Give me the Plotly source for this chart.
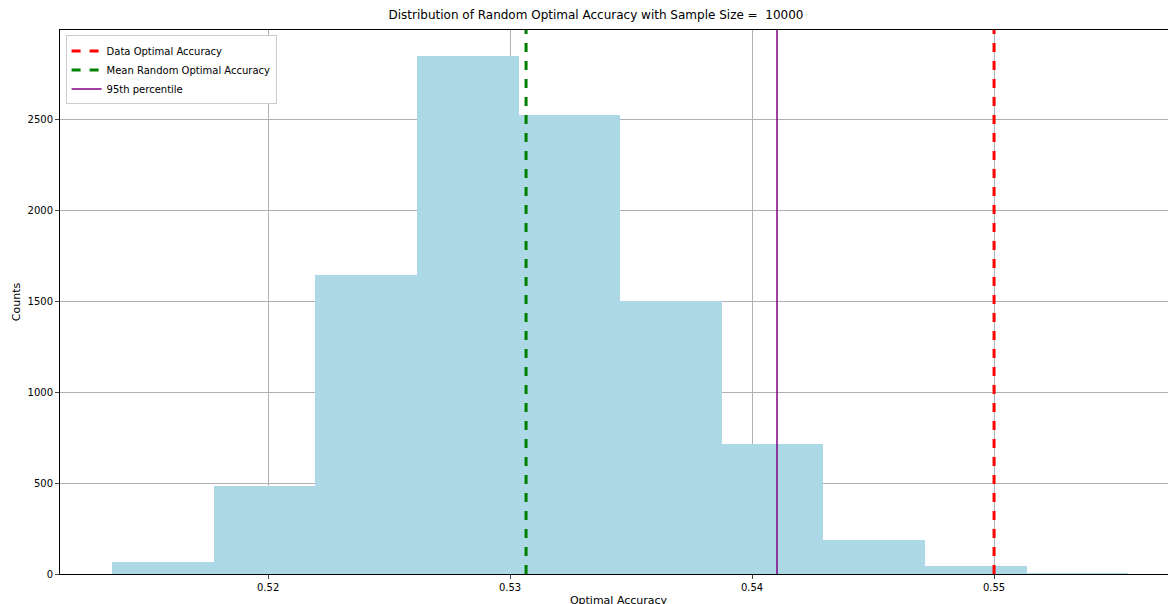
import numpy as np
import plotly.graph_objects as go

# histogram
bin_edges = [0.51355, 0.51775, 0.52195, 0.52615, 0.53035, 0.53455,
             0.53875, 0.54295, 0.54715, 0.55135, 0.55555]
counts = [66, 484, 1643, 2846, 2522, 1500, 714, 187, 44, 5]

data_opt_acc = 0.5500
mean_random_acc = 0.53066
pct95 = 0.54103
ymax = 2989

edges = np.array(bin_edges)
centers = (edges[:-1] + edges[1:]) / 2
widths = np.diff(edges)

fig = go.Figure()
fig.add_trace(go.Bar(x=centers, y=counts, width=widths, marker_color='lightblue',
                     marker_line_width=0, showlegend=False))

lines = [
    ('Data Optimal Accuracy', data_opt_acc, 'red', 'dash', 3),
    ('Mean Random Optimal Accuracy', mean_random_acc, 'green', 'dash', 3),
    ('95th percentile', pct95, 'purple', 'solid', 1.5),
]
for name, xv, color, dash, w in lines:
    fig.add_trace(go.Scatter(x=[xv, xv], y=[0, ymax], mode='lines', name=name,
                             line=dict(color=color, dash=dash, width=w)))

axis_style = dict(showgrid=True, gridcolor='#b0b0b0', gridwidth=1, showline=True,
                  linecolor='black', mirror=True, ticks='outside', ticklen=4,
                  zeroline=False, tickfont=dict(size=10), automargin=False)
fig.update_xaxes(range=[0.5114, 0.55756], tickvals=[0.52, 0.53, 0.54, 0.55],
                 title=dict(text='Optimal Accuracy', font=dict(size=11), standoff=4), **axis_style)
fig.update_yaxes(range=[0, ymax], tickvals=[0, 500, 1000, 1500, 2000, 2500],
                 title=dict(text='Counts', font=dict(size=11), standoff=4), **axis_style)
fig.update_layout(
    width=1176, height=604,
    title=dict(text='Distribution of Random Optimal Accuracy with Sample Size =  10000',
               x=0.5, xanchor='center', yref='container', y=0.995, yanchor='top',
               font=dict(size=12, color='black'), automargin=False),
    font=dict(family='DejaVu Sans', color='black'),
    plot_bgcolor='white', paper_bgcolor='white',
    margin=dict(l=52, r=7, t=22, b=38),
    bargap=0,
    legend=dict(x=0.005, y=0.99, xanchor='left', yanchor='top', bgcolor='white',
                bordercolor='#cccccc', borderwidth=1, font=dict(size=10),
                tracegroupgap=0, itemwidth=30),
)
fig.write_html("out.html")
